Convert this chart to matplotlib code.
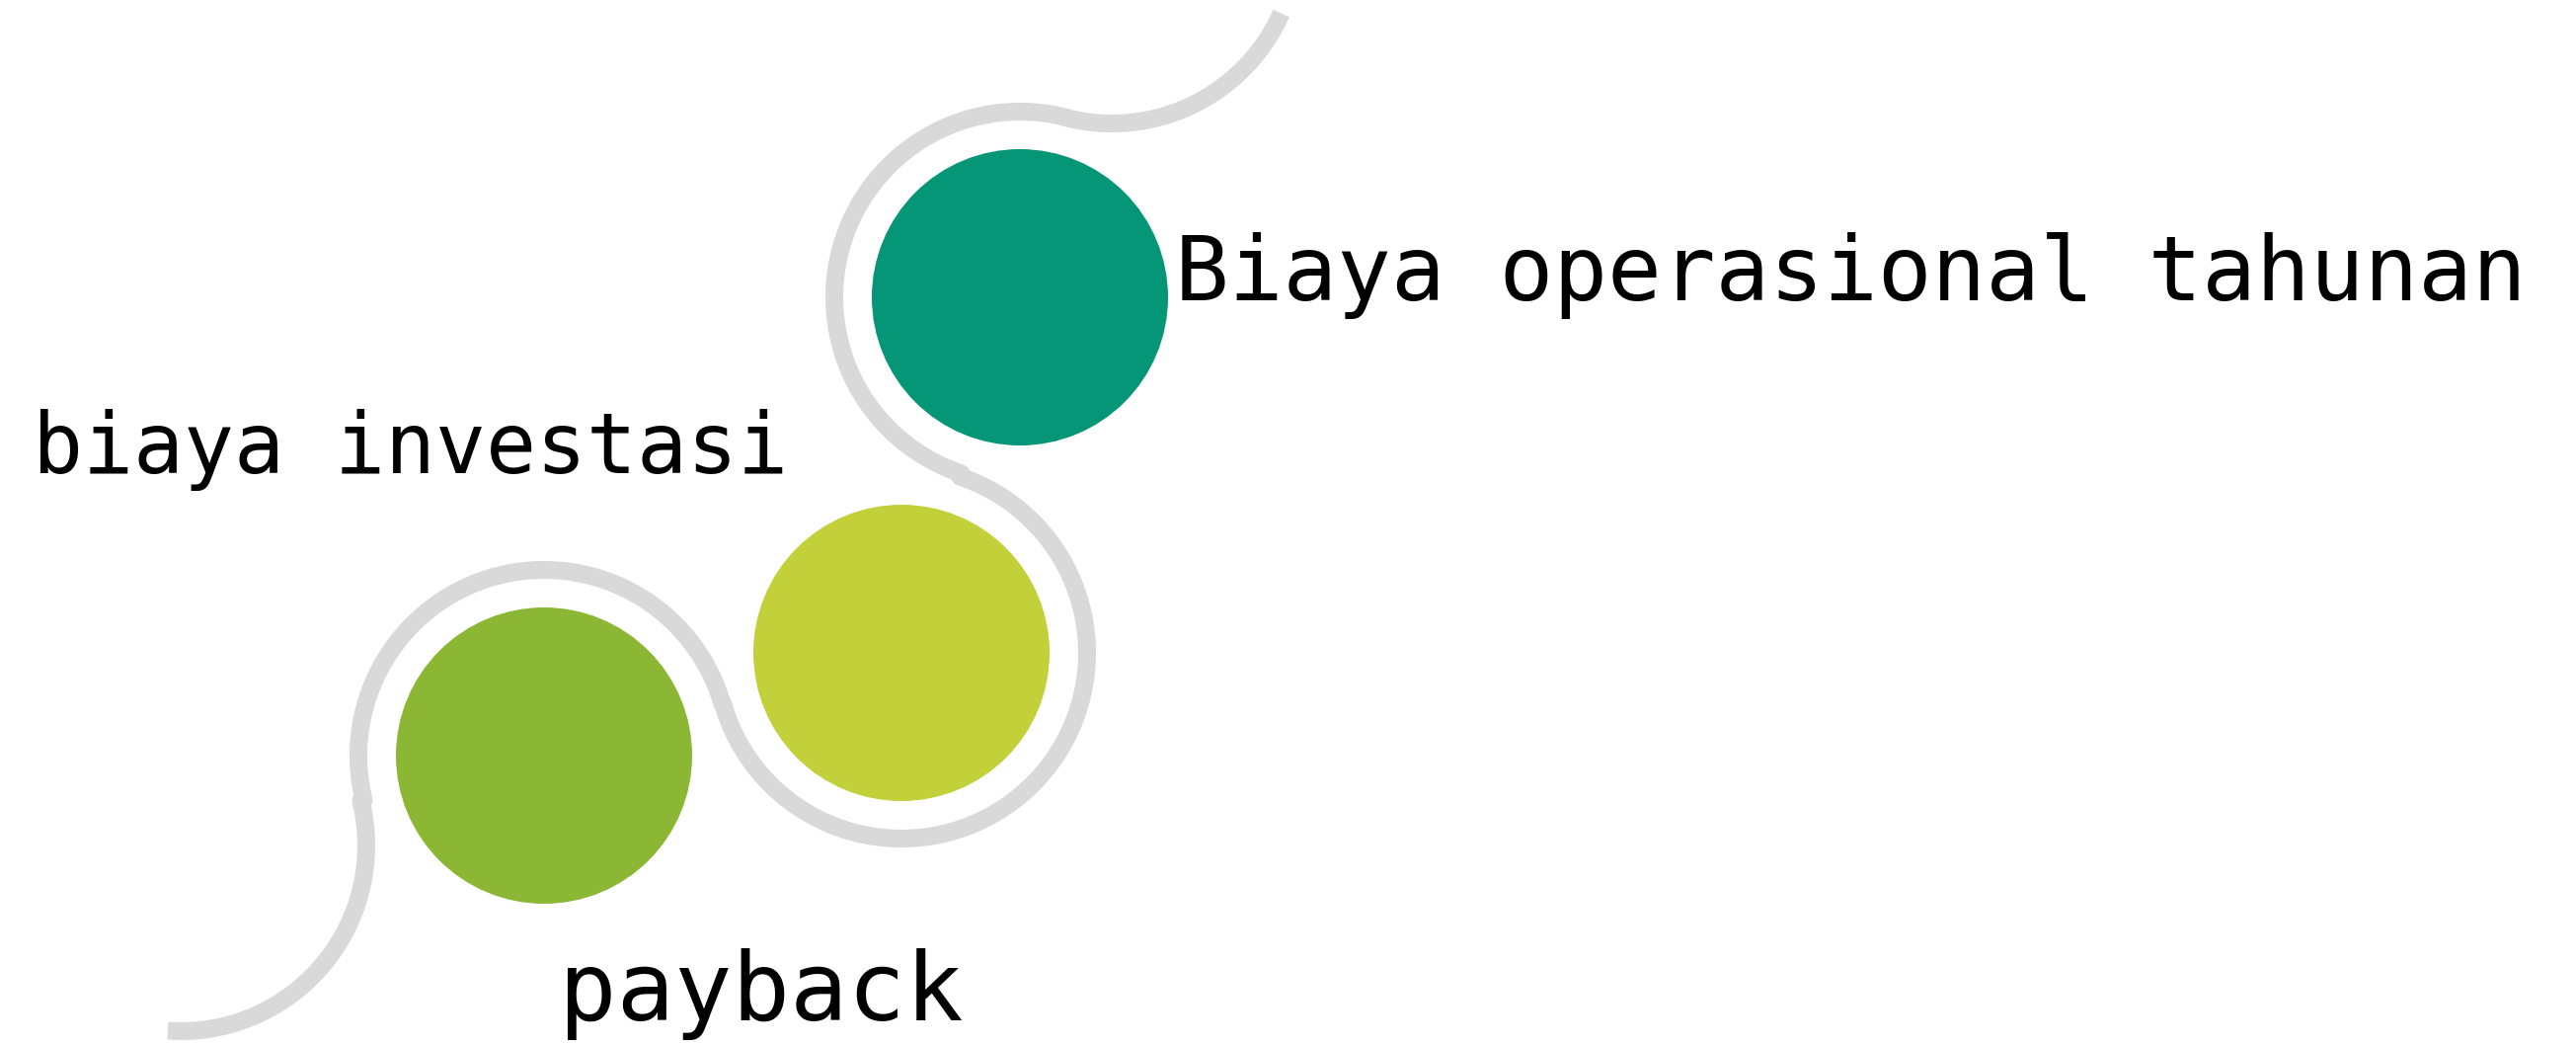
import matplotlib
matplotlib.use("Agg")
import matplotlib.pyplot as plt
import numpy as np
from matplotlib.patches import Circle

# ==========================================
# data
# ==========================================
labels = ["Biaya operasional tahunan", "biaya investasi", "payback"]
circle_colors = ["#049676", "#C2D03A", "#8BB734"]   # teal, yellow-green, green
track_color = "#D9D9D9"

# ==========================================
# layout (pixels, y downward)
# ==========================================
W, H = 2609, 1058
R_DOT = 150      # filled circles
R_TRACK = 188    # grey track radius

# centres of the track arcs: bottom-left end, green, yellow, teal, top-right end
centres = [(183, 856), (551, 765), (913, 661), (1033, 301), (1126, -63)]
start_deg, end_deg = 266, 336

# which centre gets which filled circle
dot_centres = {0: 3, 1: 2, 2: 1}   # colour index -> centre index

text_pos = [(1190, 304, 65.5), (33, 479, 61), (566, 1033, 70)]   # x, baseline, size


def ang(a, b):
    return np.degrees(np.arctan2(-(b[1] - a[1]), b[0] - a[0]))


def arc(c, t0, t1, ccw):
    # sweep the short way round in the given direction
    if ccw:
        t1 = t0 + (t1 - t0) % 360
    else:
        t1 = t0 - (t0 - t1) % 360
    t = np.radians(np.linspace(t0, t1, 200))
    return c[0] + R_TRACK * np.cos(t), c[1] - R_TRACK * np.sin(t)


xs, ys = [], []
n = len(centres)
for i, c in enumerate(centres):
    t0 = start_deg if i == 0 else ang(c, centres[i - 1])
    t1 = end_deg if i == n - 1 else ang(c, centres[i + 1])
    x, y = arc(c, t0, t1, ccw=(i % 2 == 0))
    xs.append(x)
    ys.append(y)
xs = np.concatenate(xs)
ys = np.concatenate(ys)

fig = plt.figure(figsize=(W / 100, H / 100), dpi=100)
ax = fig.add_axes([0, 0, 1, 1])
ax.set_xlim(0, W)
ax.set_ylim(H, 0)
ax.set_aspect("equal")
ax.axis("off")

ax.plot(xs, ys, color=track_color, lw=13, solid_capstyle="butt",
        solid_joinstyle="round", zorder=1)

for ci, k in dot_centres.items():
    ax.add_patch(Circle(centres[k], R_DOT, color=circle_colors[ci], lw=0, zorder=2))

for txt, (x, y, fs) in zip(labels, text_pos):
    ax.text(x, y, txt, fontsize=fs, family="DejaVu Sans Mono", color="black",
            ha="left", va="baseline", zorder=3)

fig.savefig("out.png", dpi=100, facecolor="white")
